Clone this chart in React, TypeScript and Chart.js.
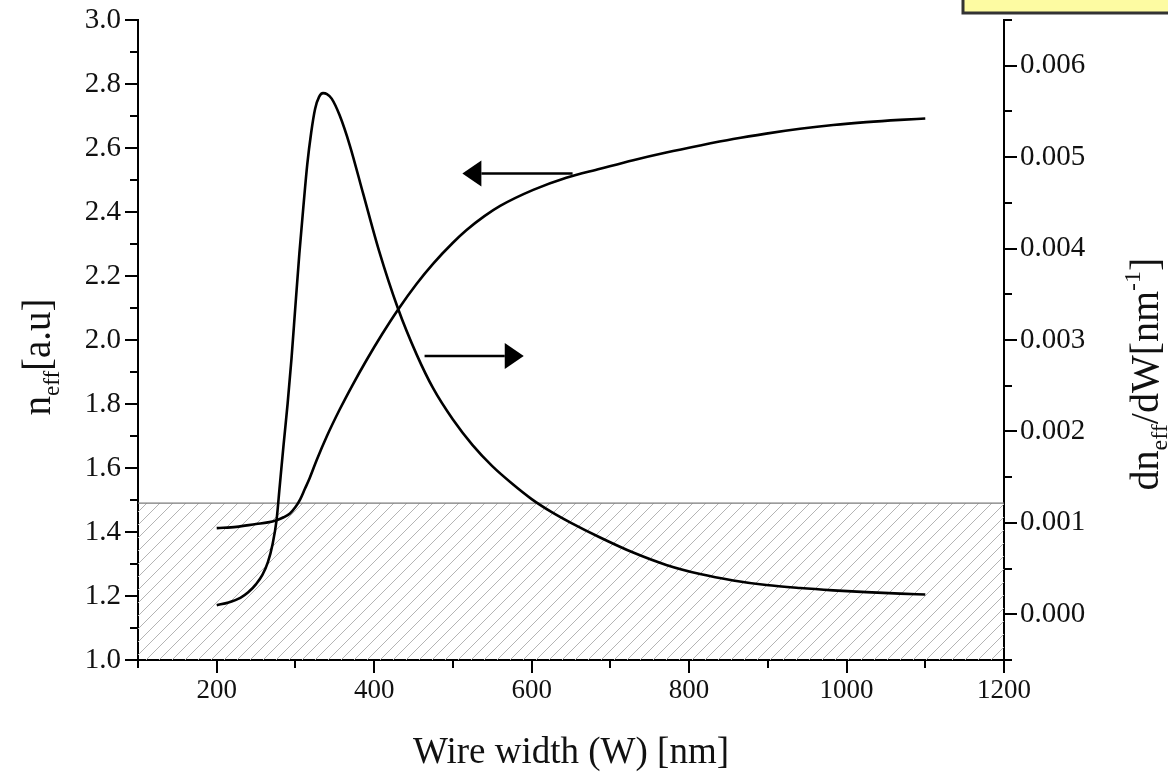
import React, { useEffect, useRef } from 'react';
import { Chart, registerables } from 'chart.js';

Chart.register(...registerables);

const FONT = "'Liberation Serif', 'Times New Roman', Times, serif";

// n_eff (left axis) versus wire width W [nm]
const nEffWidth = [200, 225, 250, 265, 276, 285, 293, 300, 306, 312, 318, 327, 340, 356, 372, 390, 410, 430, 454, 475, 500, 517, 540, 560, 602, 644, 687, 729, 771, 814, 856, 898, 941, 983, 1025, 1068, 1100];
const nEffValues = [1.412, 1.416, 1.425, 1.43, 1.437, 1.446, 1.458, 1.478, 1.502, 1.535, 1.568, 1.625, 1.7, 1.782, 1.857, 1.936, 2.018, 2.094, 2.176, 2.239, 2.304, 2.343, 2.387, 2.419, 2.469, 2.507, 2.535, 2.562, 2.586, 2.608, 2.628, 2.645, 2.66, 2.672, 2.681, 2.688, 2.692];

// dn_eff/dW (right axis) versus wire width W [nm]
const slopeWidth = [200, 215, 230, 240, 250, 258, 265, 271, 276, 280, 285, 290, 295, 300, 305, 310, 315, 320, 325, 330, 335, 340, 346, 356, 369, 386, 406, 430, 454, 475, 500, 525, 550, 575, 600, 625, 650, 687, 729, 771, 814, 856, 898, 941, 983, 1025, 1068, 1100];
const slopeValues = [0.0001, 0.00013, 0.00018, 0.00024, 0.00033, 0.00043, 0.00057, 0.00077, 0.00103, 0.0014, 0.00186, 0.0023, 0.0028, 0.00338, 0.00395, 0.00445, 0.00492, 0.00527, 0.00553, 0.00566, 0.0057, 0.00569, 0.00564, 0.00546, 0.00513, 0.0046, 0.00398, 0.00335, 0.00284, 0.00247, 0.00213, 0.00185, 0.00162, 0.00143, 0.00126, 0.00112, 0.001, 0.00084, 0.000675, 0.00054, 0.00044, 0.00037, 0.00032, 0.000287, 0.000262, 0.000242, 0.000226, 0.000217];

// axes
const xRange = [100, 1200];
const xMajorTicks = [200, 400, 600, 800, 1000, 1200];
const leftRange = [1.0, 3.0];
const leftMajorTicks = ['1.0', '1.2', '1.4', '1.6', '1.8', '2.0', '2.2', '2.4', '2.6', '2.8', '3.0'];
const rightRange = [-0.0005, 0.0065];
const rightMajorTicks = ['0.000', '0.001', '0.002', '0.003', '0.004', '0.005', '0.006'];

// hatched band (below n = 1.49)
const hatchLevel = 1.49;
const hatchSpan = [100, 1200];

// arrows (data coordinates: W, n_eff)
const leftArrow = { fromW: 652, toW: 512, n: 2.52 };
const rightArrow = { fromW: 464, toW: 590, n: 1.95 };

function makeHatch(): CanvasPattern | string {
  const s = 13;
  const c = document.createElement('canvas');
  c.width = s;
  c.height = s;
  const g = c.getContext('2d');
  if (!g) return 'rgba(0,0,0,0)';
  g.strokeStyle = '#b4b4b4';
  g.lineWidth = 1;
  g.beginPath();
  g.moveTo(0, s);
  g.lineTo(s, 0);
  g.moveTo(-s / 2, s / 2);
  g.lineTo(s / 2, -s / 2);
  g.moveTo(s / 2, s * 1.5);
  g.lineTo(s * 1.5, s / 2);
  g.stroke();
  return g.createPattern(c, 'repeat') || 'rgba(0,0,0,0)';
}

type Seg = { text: string; size: number; dy?: number };

function drawRich(ctx: CanvasRenderingContext2D, segs: Seg[], cx: number, cy: number, rotate: boolean) {
  ctx.save();
  ctx.translate(cx, cy);
  if (rotate) ctx.rotate(-Math.PI / 2);
  ctx.fillStyle = '#111';
  ctx.textAlign = 'left';
  ctx.textBaseline = 'alphabetic';
  let total = 0;
  const widths: number[] = [];
  for (const s of segs) {
    ctx.font = `${s.size}px ${FONT}`;
    const w = ctx.measureText(s.text).width;
    widths.push(w);
    total += w;
  }
  let x = -total / 2;
  segs.forEach((s, i) => {
    ctx.font = `${s.size}px ${FONT}`;
    ctx.fillText(s.text, x, s.dy || 0);
    x += widths[i];
  });
  ctx.restore();
}

const decorPlugin = {
  id: 'decor',
  afterDatasetsDraw(chart: any) {
    const ctx: CanvasRenderingContext2D = chart.ctx;
    const xs = chart.scales.x;
    const ys = chart.scales.y;
    const drawArrow = (a: { fromW: number; toW: number; n: number }) => {
      const x1 = xs.getPixelForValue(a.fromW);
      const x2 = xs.getPixelForValue(a.toW);
      const y = ys.getPixelForValue(a.n);
      const dir = Math.sign(x2 - x1);
      const headL = 19;
      const headW = 13;
      ctx.save();
      ctx.strokeStyle = '#000';
      ctx.fillStyle = '#000';
      ctx.lineWidth = 2.5;
      ctx.beginPath();
      ctx.moveTo(x1, y);
      ctx.lineTo(x2 - dir * headL, y);
      ctx.stroke();
      ctx.beginPath();
      ctx.moveTo(x2, y);
      ctx.lineTo(x2 - dir * headL, y - headW);
      ctx.lineTo(x2 - dir * headL, y + headW);
      ctx.closePath();
      ctx.fill();
      ctx.restore();
    };
    drawArrow(leftArrow);
    drawArrow(rightArrow);
  },
  afterDraw(chart: any) {
    const ctx: CanvasRenderingContext2D = chart.ctx;
    const ca = chart.chartArea;
    // tick marks
    ctx.save();
    ctx.strokeStyle = '#000';
    ctx.lineWidth = 2;
    const major = 13;
    const minor = 8;
    const xs = chart.scales.x;
    xs.ticks.forEach((t: any) => {
      const p = Math.round(xs.getPixelForValue(t.value));
      const len = t.label !== '' ? major : minor;
      ctx.beginPath();
      ctx.moveTo(p, ca.bottom);
      ctx.lineTo(p, ca.bottom + len);
      ctx.stroke();
    });
    const ys = chart.scales.y;
    ys.ticks.forEach((t: any) => {
      const p = Math.round(ys.getPixelForValue(t.value));
      const len = t.label !== '' ? major : minor;
      ctx.beginPath();
      ctx.moveTo(ca.left, p);
      ctx.lineTo(ca.left - len, p);
      ctx.stroke();
    });
    const y1 = chart.scales.y1;
    y1.ticks.forEach((t: any) => {
      const p = Math.round(y1.getPixelForValue(t.value));
      const len = t.label !== '' ? major : minor;
      ctx.beginPath();
      ctx.moveTo(ca.right, p);
      ctx.lineTo(ca.right + len, p);
      ctx.stroke();
    });
    ctx.restore();

    // axis titles
    drawRich(ctx, [
      { text: 'n', size: 39 },
      { text: 'eff', size: 23, dy: 9 },
      { text: '[a.u]', size: 39 },
    ], 50, 357, true);
    drawRich(ctx, [
      { text: 'dn', size: 40 },
      { text: 'eff', size: 24, dy: 9 },
      { text: '/dW[nm', size: 40 },
      { text: '-1', size: 24, dy: -18 },
      { text: ']', size: 40 },
    ], 1158, 374, true);
    drawRich(ctx, [{ text: 'Wire width (W) [nm]', size: 37 }], (ca.left + ca.right) / 2, 763, false);

    // yellow box (cut at the top edge)
    ctx.save();
    ctx.fillStyle = '#fdfba2';
    ctx.strokeStyle = '#333';
    ctx.lineWidth = 3;
    ctx.fillRect(963, -10, 230, 23);
    ctx.strokeRect(963, -10, 230, 23);
    ctx.restore();
  },
};

export default function App() {
  const ref = useRef<HTMLCanvasElement | null>(null);

  useEffect(() => {
    document.body.style.margin = '0';
    document.body.style.overflow = 'hidden';
    const canvas = ref.current;
    if (!canvas) return;
    const hatch = makeHatch();
    const xFont = { family: FONT, size: 27 };
    const yFont = { family: FONT, size: 29 };
    const chart = new Chart(canvas, {
      type: 'line',
      data: {
        datasets: [
          {
            label: 'n_eff',
            data: nEffWidth.map((w, i) => ({ x: w, y: nEffValues[i] })),
            yAxisID: 'y',
            borderColor: '#000',
            borderWidth: 2.6,
            pointRadius: 0,
            fill: false,
            cubicInterpolationMode: 'monotone',
          },
          {
            label: 'dn_eff/dW',
            data: slopeWidth.map((w, i) => ({ x: w, y: slopeValues[i] })),
            yAxisID: 'y1',
            borderColor: '#000',
            borderWidth: 2.6,
            pointRadius: 0,
            fill: false,
            cubicInterpolationMode: 'monotone',
          },
          {
            label: 'hatch',
            data: hatchSpan.map((w) => ({ x: w, y: hatchLevel })),
            yAxisID: 'y',
            borderColor: '#7a7a7a',
            borderWidth: 1.2,
            pointRadius: 0,
            fill: 'start',
            backgroundColor: hatch as any,
          },
        ],
      },
      options: {
        animation: false,
        responsive: false,
        devicePixelRatio: 1,
        layout: { padding: { top: 20, left: 0, right: 0, bottom: 0 } },
        plugins: { legend: { display: false }, tooltip: { enabled: false } },
        events: [],
        scales: {
          x: {
            type: 'linear',
            min: xRange[0],
            max: xRange[1],
            position: 'bottom',
            afterFit: (s: any) => { s.height = 120; s.paddingLeft = 0; s.paddingRight = 0; },
            grid: { display: false, drawTicks: false, tickLength: 0 },
            border: { display: true, color: '#000', width: 2 },
            ticks: {
              stepSize: 100,
              autoSkip: false,
              maxRotation: 0,
              padding: 15,
              color: '#111',
              font: xFont,
              callback: (v: any) => (xMajorTicks.includes(Math.round(Number(v))) ? String(Math.round(Number(v))) : ''),
            },
          },
          y: {
            type: 'linear',
            min: leftRange[0],
            max: leftRange[1],
            position: 'left',
            afterFit: (s: any) => { s.width = 138; s.paddingTop = 0; s.paddingBottom = 0; },
            grid: { display: false, drawTicks: false, tickLength: 0 },
            border: { display: true, color: '#000', width: 2 },
            ticks: {
              stepSize: 0.1,
              autoSkip: false,
              padding: 17,
              color: '#111',
              font: yFont,
              callback: (v: any) => {
                const s = Number(v).toFixed(1);
                return leftMajorTicks.includes(s) ? s : '';
              },
            },
          },
          y1: {
            type: 'linear',
            min: rightRange[0],
            max: rightRange[1],
            position: 'right',
            afterFit: (s: any) => { s.width = 164; s.paddingTop = 0; s.paddingBottom = 0; },
            grid: { display: false, drawTicks: false, tickLength: 0 },
            border: { display: true, color: '#000', width: 2 },
            ticks: {
              stepSize: 0.0005,
              autoSkip: false,
              padding: 16,
              color: '#111',
              font: yFont,
              callback: (v: any) => {
                const s = Number(v).toFixed(3);
                const t = s === '-0.000' ? '0.000' : s;
                const isMajor = Math.abs(Number(v) * 1000 - Math.round(Number(v) * 1000)) < 1e-6;
                return isMajor && rightMajorTicks.includes(t) ? t : '';
              },
            },
          },
        },
      } as any,
      plugins: [decorPlugin],
    });
    return () => chart.destroy();
  }, []);

  return (
    <div style={{ width: 1168, height: 780, background: '#fff' }}>
      <canvas ref={ref} width={1168} height={780} style={{ display: 'block', width: 1168, height: 780 }} />
    </div>
  );
}
